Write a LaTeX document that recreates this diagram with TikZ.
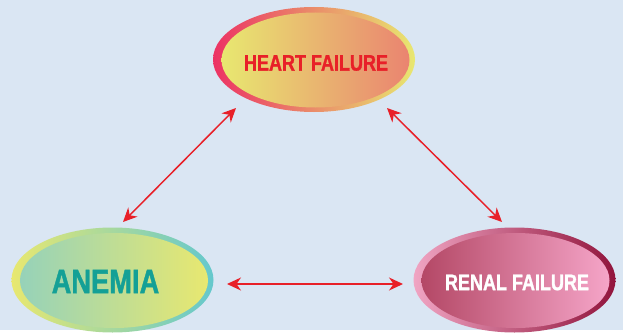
\documentclass[tikz,border=0pt]{standalone}
\usepackage{fontspec}
\usetikzlibrary{shapes.geometric,arrows.meta}
\newfontfamily\labelfont[FakeStretch=0.8,FakeBold=1.2]{Liberation Sans}
\definecolor{bgblue}{RGB}{218,230,243}
\definecolor{arrowred}{RGB}{232,32,40}
\definecolor{hotpink}{RGB}{236,50,100}
\definecolor{salmon}{RGB}{234,132,112}
\definecolor{peach}{RGB}{234,178,116}
\definecolor{lemon}{RGB}{232,232,112}
\definecolor{teal}{RGB}{100,200,205}
\definecolor{mint}{RGB}{150,210,185}
\definecolor{seafoam}{RGB}{170,216,172}
\definecolor{darkteal}{RGB}{20,160,150}
\definecolor{lightrose}{RGB}{240,165,195}
\definecolor{maroon}{RGB}{145,20,60}
\definecolor{dustyrose}{RGB}{180,72,102}
\definecolor{candy}{RGB}{245,165,200}

\begin{document}
\begin{tikzpicture}[x=0.2mm,y=-0.2mm,
    rim/.style={ellipse,inner sep=0pt,minimum width=40.4mm,minimum height=21mm},
    core/.style={ellipse,inner sep=0pt,minimum width=37.6mm,minimum height=19mm},
    caption/.style={inner sep=0pt,font=\labelfont\bfseries},
    link/.style={draw=arrowred,line width=0.3mm,
        {Stealth[length=2.8mm,width=2.6mm,inset=0.9mm]}-{Stealth[length=2.8mm,width=2.6mm,inset=0.9mm]}}]
    \fill[bgblue] (0,0) rectangle (623,330);
    % heart failure
    \node[rim, left color=hotpink, middle color=peach, right color=lemon] (heartrim) at (314,59.5) {};
    \node[core, left color=lemon, middle color=peach, right color=salmon] (heart) at (315.5,60) {};
    \node[caption, text=arrowred, font=\fontsize{12.8}{13}\labelfont\bfseries] (hearttext) at (316,63) {HEART FAILURE};
    % anemia
    \node[rim, left color=lemon, middle color=seafoam, right color=teal] (anemiarim) at (112.5,280) {};
    \node[core, left color=mint, right color=lemon] (anemia) at (114,280.5) {};
    \node[caption, text=darkteal, font=\fontsize{19.4}{20}\labelfont\bfseries] (anemiatext) at (105.5,281.5) {ANEMIA};
    % renal failure
    \node[rim, left color=lightrose, right color=maroon] (renalrim) at (514.5,280) {};
    \node[core, left color=dustyrose, right color=candy] (renal) at (515.5,280.5) {};
    \node[caption, text=white, font=\fontsize{12.8}{13}\labelfont\bfseries] (renaltext) at (517,282.5) {RENAL FAILURE};
    % arrows
    \coordinate (ha) at (236,108);
    \coordinate (ah) at (123,222);
    \coordinate (hr) at (387,108);
    \coordinate (rh) at (502,222);
    \coordinate (ar) at (227,284);
    \coordinate (ra) at (403,284);
    \draw[link] (ha) -- (ah);
    \draw[link] (hr) -- (rh);
    \draw[link] (ar) -- (ra);
\end{tikzpicture}
\end{document}
